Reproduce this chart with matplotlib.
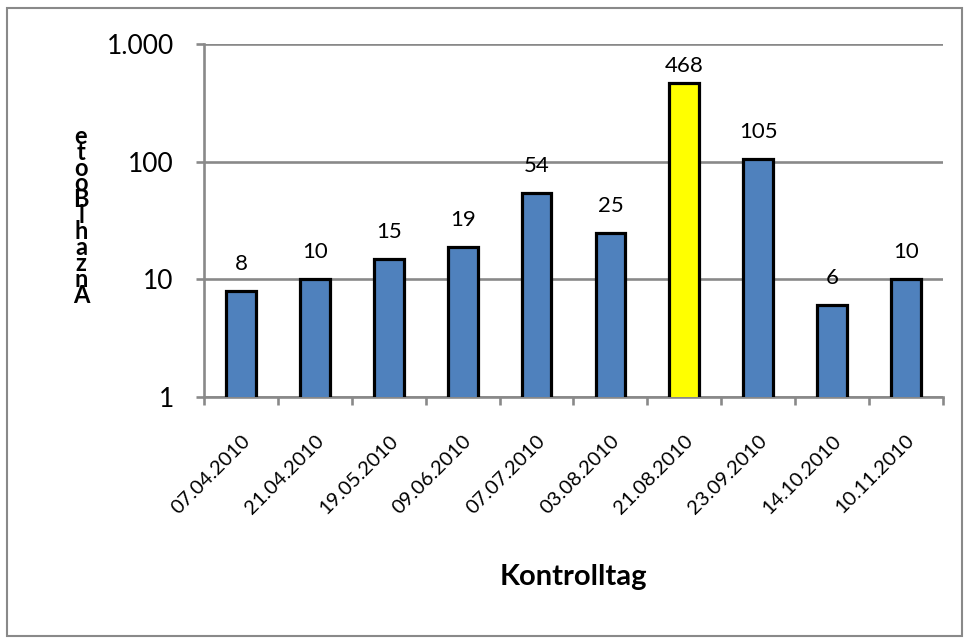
import matplotlib
matplotlib.use("Agg")
import matplotlib.pyplot as plt
from matplotlib.patches import Rectangle
from matplotlib.ticker import FixedLocator, NullLocator
import numpy as np

# Boat counts per inspection day
dates = ["07.04.2010", "21.04.2010", "19.05.2010", "09.06.2010", "07.07.2010",
         "03.08.2010", "21.08.2010", "23.09.2010", "14.10.2010", "10.11.2010"]
boats = [8, 10, 15, 19, 54, 25, 468, 105, 6, 10]
highlight_day = "21.08.2010"

y_ticks = [1, 10, 100, 1000]
y_tick_labels = ["1", "10", "100", "1.000"]

x_title = "Kontrolltag"
y_title = "Anzahl Boote"

plt.rcParams["font.family"] = ["Lato", "DejaVu Sans"]

GRAY = "#898989"
BLUE = "#4F81BD"
YELLOW = "#FFFF00"

fig = plt.figure(figsize=(9.65, 6.44), dpi=100)
fig.patch.set_facecolor("white")

# outer chart frame
fig.add_artist(Rectangle((7 / 965, 8 / 644), 955 / 965, 628 / 644,
                         transform=fig.transFigure, fill=False,
                         edgecolor=GRAY, linewidth=1.5))

ax = fig.add_axes([0.2117, 0.3835, 0.7652, 0.5482])
ax.set_yscale("log")
ax.set_ylim(1, 1000)
ax.set_xlim(-0.5, len(dates) - 0.5)

x = np.arange(len(dates))
colors = [YELLOW if d == highlight_day else BLUE for d in dates]
ax.bar(x, boats, width=0.4, color=colors, edgecolor="black",
       linewidth=2.3, zorder=3)

# gridlines and axes
ax.set_axisbelow(True)
ax.yaxis.set_major_locator(FixedLocator(y_ticks))
ax.yaxis.set_minor_locator(NullLocator())
ax.set_yticklabels(y_tick_labels)
ax.yaxis.grid(True, color=GRAY, linewidth=1.9)
for side in ("top", "right"):
    ax.spines[side].set_visible(False)
for side in ("left", "bottom"):
    ax.spines[side].set_color(GRAY)
    ax.spines[side].set_linewidth(1.9)

ax.tick_params(axis="y", which="major", direction="out", length=6,
               width=1.9, color=GRAY, pad=16, labelsize=19)

ax.set_xticks(x)
ax.set_xticklabels(dates, rotation=45, ha="right", va="top",
                   rotation_mode="anchor")
ax.set_xticks(np.arange(len(dates) + 1) - 0.5, minor=True)
ax.tick_params(axis="x", which="major", length=0, pad=25, labelsize=14.5)
ax.tick_params(axis="x", which="minor", direction="out", length=6,
               width=1.9, color=GRAY)

# value labels above the bars, kept inside the plot area
fig.canvas.draw()
to_disp = ax.transData
ax_top = ax.transAxes.transform((0, 1))[1]
for xi, v in zip(x, boats):
    bx, by = to_disp.transform((xi, v))
    ty = min(by + 21, ax_top - 28)
    tx, ty_data = to_disp.inverted().transform((bx, ty))
    ax.text(xi, ty_data, str(v), ha="center", va="baseline", fontsize=16,
            zorder=4)

ax.set_xlabel(x_title, fontsize=21, fontweight="bold")
ax.xaxis.label.set_va("center")
ax.xaxis.set_label_coords(0.5, -0.51)

ax.set_ylabel("\n".join(reversed(y_title.replace(" ", ""))), rotation=0,
              fontsize=17, fontweight="bold", linespacing=0.63,
              ha="center", va="center")
ax.yaxis.set_label_coords(-0.167, 0.513)

fig.savefig("out.png", dpi=100, facecolor="white")
